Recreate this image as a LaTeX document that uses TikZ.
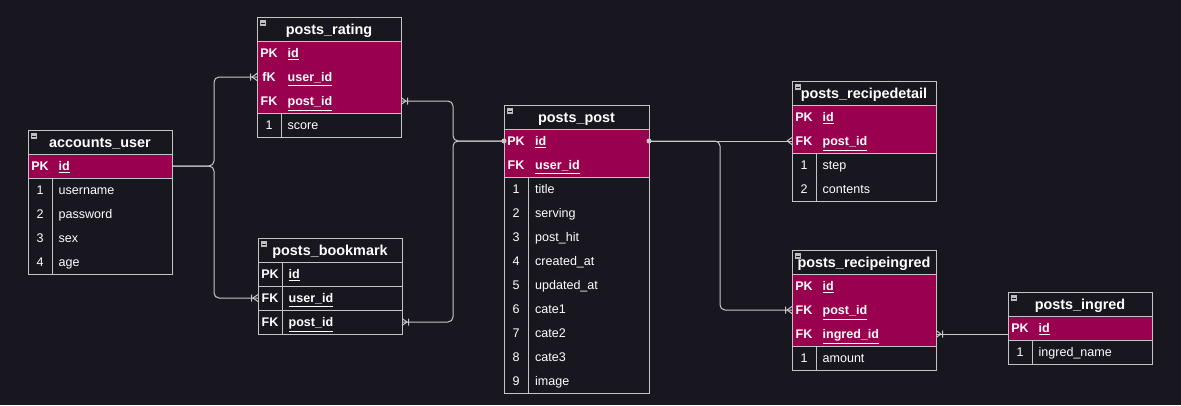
\documentclass[tikz,border=0pt]{standalone}
\usepackage{fontspec}
\setmainfont{Liberation Sans}
\usetikzlibrary{positioning}
\definecolor{bgcol}{RGB}{24,22,31}
\definecolor{keycol}{RGB}{153,0,78}
\definecolor{edgecol}{RGB}{196,196,196}
\definecolor{linecol}{RGB}{200,200,200}
\definecolor{iconcol}{RGB}{190,190,190}
\newcommand{\tblheadfont}{\fontsize{10.8}{12}\selectfont\bfseries}
\newcommand{\cellfont}{\fontsize{9.4}{11}\selectfont}
\tikzset{
every node/.style={outer sep=0pt}, % rows sit flush on each other
tblhead/.style={anchor=north west, minimum width=108pt, minimum height=18pt, inner sep=0pt, text=white, font=\tblheadfont, text height=9pt, text depth=1pt}, % table title row
kcell/.style={minimum width=18pt, minimum height=18pt, inner sep=0pt, text=white, font=\cellfont, text height=8.4pt, text depth=1.6pt}, % left column (PK, FK, 1, 2 ...)
ncell/.style={minimum width=90pt, minimum height=18pt, inner xsep=5pt, inner ysep=0pt, text width=80pt, align=left, text=white, font=\cellfont, text height=8.4pt, text depth=1.6pt}, % field name
keytext/.style={font=\cellfont\bfseries},
key/.style={keytext, fill=keycol}, % key rows are filled
tbl/.style={draw=edgecol, line width=0.75pt},
rel/.style={draw=linecol, line width=0.75pt, rounded corners=3.75pt},
crow/.pic={\draw[linecol, line width=0.75pt] (-5,0) -- (0,-3.5) (-5,0) -- (0,3.5);}, % many
crowbar/.pic={\draw[linecol, line width=0.75pt] (-5,0) -- (0,-3.5) (-5,0) -- (0,3.5) (-6.5,-3.5) -- (-6.5,3.5);}, % one or many
}
\begin{document}
\begin{tikzpicture}[x=0.75pt, y=-0.75pt]
\useasboundingbox[fill=bgcol] (0,0) rectangle (1181,405);

% accounts_user
\node[tblhead] (user) at (28,130) {accounts\_user};
\node[kcell, key, anchor=north west] (user-k1) at (user.south west) {PK};
\node[ncell, key, right=0pt of user-k1] (user-id) {\underline{id}};
\foreach \n/\f [remember=\n as \p (initially k1)] in {1/username, 2/password, 3/sex, 4/age} {
  \node[kcell, below=0pt of user-\p] (user-\n) {\n};
  \node[ncell, right=0pt of user-\n] (user-f\n) {\f};
}

% posts_rating
\node[tblhead] (rating) at (257,17) {posts\_rating};
\node[kcell, key, anchor=north west] (rating-k1) at (rating.south west) {PK};
\node[ncell, key, right=0pt of rating-k1] (rating-id) {\underline{id}};
\node[kcell, key, below=0pt of rating-k1] (rating-k2) {fK};
\node[ncell, key, right=0pt of rating-k2] (rating-user) {\underline{user\_id}};
\node[kcell, key, below=0pt of rating-k2] (rating-k3) {FK};
\node[ncell, key, right=0pt of rating-k3] (rating-post) {\underline{post\_id}};
\node[kcell, below=0pt of rating-k3] (rating-1) {1};
\node[ncell, right=0pt of rating-1] (rating-f1) {score};

% posts_bookmark
\node[tblhead] (bookmark) at (258,238) {posts\_bookmark};
\node[kcell, keytext, anchor=north west] (bookmark-k1) at (bookmark.south west) {PK};
\node[ncell, keytext, right=0pt of bookmark-k1] (bookmark-id) {\underline{id}};
\node[kcell, keytext, below=0pt of bookmark-k1] (bookmark-k2) {FK};
\node[ncell, keytext, right=0pt of bookmark-k2] (bookmark-user) {\underline{user\_id}};
\node[kcell, keytext, below=0pt of bookmark-k2] (bookmark-k3) {FK};
\node[ncell, keytext, right=0pt of bookmark-k3] (bookmark-post) {\underline{post\_id}};

% posts_post
\node[tblhead, minimum width=108.75pt] (post) at (504,105) {posts\_post};
\node[kcell, key, anchor=north west] (post-k1) at (post.south west) {PK};
\node[ncell, key, minimum width=90.75pt, right=0pt of post-k1] (post-id) {\underline{id}};
\node[kcell, key, below=0pt of post-k1] (post-k2) {FK};
\node[ncell, key, minimum width=90.75pt, right=0pt of post-k2] (post-user) {\underline{user\_id}};
\foreach \n/\f [remember=\n as \p (initially k2)] in {1/title, 2/serving, 3/post\_hit, 4/created\_at, 5/updated\_at, 6/cate1, 7/cate2, 8/cate3, 9/image} {
  \node[kcell, below=0pt of post-\p] (post-\n) {\n};
  \node[ncell, minimum width=90.75pt, right=0pt of post-\n] (post-f\n) {\f};
}

% posts_recipedetail
\node[tblhead] (detail) at (792,81) {posts\_recipedetail};
\node[kcell, key, anchor=north west] (detail-k1) at (detail.south west) {PK};
\node[ncell, key, right=0pt of detail-k1] (detail-id) {\underline{id}};
\node[kcell, key, below=0pt of detail-k1] (detail-k2) {FK};
\node[ncell, key, right=0pt of detail-k2] (detail-post) {\underline{post\_id}};
\node[kcell, below=0pt of detail-k2] (detail-1) {1};
\node[ncell, right=0pt of detail-1] (detail-f1) {step};
\node[kcell, below=0pt of detail-1] (detail-2) {2};
\node[ncell, right=0pt of detail-2] (detail-f2) {contents};

% posts_recipeingred
\node[tblhead] (ringred) at (792,250) {posts\_recipeingred};
\node[kcell, key, anchor=north west] (ringred-k1) at (ringred.south west) {PK};
\node[ncell, key, right=0pt of ringred-k1] (ringred-id) {\underline{id}};
\node[kcell, key, below=0pt of ringred-k1] (ringred-k2) {FK};
\node[ncell, key, right=0pt of ringred-k2] (ringred-post) {\underline{post\_id}};
\node[kcell, key, below=0pt of ringred-k2] (ringred-k3) {FK};
\node[ncell, key, right=0pt of ringred-k3] (ringred-ingred) {\underline{ingred\_id}};
\node[kcell, below=0pt of ringred-k3] (ringred-1) {1};
\node[ncell, right=0pt of ringred-1] (ringred-f1) {amount};

% posts_ingred
\node[tblhead] (ingred) at (1008,292) {posts\_ingred};
\node[kcell, key, anchor=north west] (ingred-k1) at (ingred.south west) {PK};
\node[ncell, key, right=0pt of ingred-k1] (ingred-id) {\underline{id}};
\node[kcell, below=0pt of ingred-k1] (ingred-1) {1};
\node[ncell, right=0pt of ingred-1] (ingred-f1) {ingred\_name};

% table frames
\draw[tbl] (user.north west) rectangle (user-f4.south east) (user.south west) -- (user.south east)
  (user-1.north west) -- (user-f1.north east) (user-1.north east) -- (user-4.south east);
\draw[tbl] (rating.north west) rectangle (rating-f1.south east) (rating.south west) -- (rating.south east)
  (rating-1.north west) -- (rating-f1.north east) (rating-1.north east) -- (rating-1.south east);
\draw[tbl] (bookmark.north west) rectangle (bookmark-post.south east) (bookmark.south west) -- (bookmark.south east)
  (bookmark-k2.north west) -- (bookmark-user.north east) (bookmark-k3.north west) -- (bookmark-post.north east)
  (bookmark-k1.north east) -- (bookmark-k3.south east);
\draw[tbl] (post.north west) rectangle (post-f9.south east) (post.south west) -- (post.south east)
  (post-1.north west) -- (post-f1.north east) (post-1.north east) -- (post-9.south east);
\draw[tbl] (detail.north west) rectangle (detail-f2.south east) (detail.south west) -- (detail.south east)
  (detail-1.north west) -- (detail-f1.north east) (detail-1.north east) -- (detail-2.south east);
\draw[tbl] (ringred.north west) rectangle (ringred-f1.south east) (ringred.south west) -- (ringred.south east)
  (ringred-1.north west) -- (ringred-f1.north east) (ringred-1.north east) -- (ringred-1.south east);
\draw[tbl] (ingred.north west) rectangle (ingred-f1.south east) (ingred.south west) -- (ingred.south east)
  (ingred-1.north west) -- (ingred-f1.north east) (ingred-1.north east) -- (ingred-1.south east);

% collapse icons
\foreach \t in {user, rating, bookmark, post, detail, ringred, ingred} {
  \fill[iconcol] ([shift={(3,3)}]\t.north west) rectangle ++(6,6);
  \draw[bgcol, line width=0.75pt] ([shift={(4,6)}]\t.north west) -- ++(4,0);
}

% relations
\draw[rel] (user-id.east) -- ++(42,0) |- (rating-k2.west);
\draw[rel] (user-id.east) -- ++(42,0) |- (bookmark-k2.west);
\pic at (rating-k2.west) {crowbar};
\pic at (bookmark-k2.west) {crowbar};

\draw[rel] (post-k1.west) -- ++(-51,0) |- (rating-post.east);
\draw[rel] (post-k1.west) -- ++(-51,0) |- (bookmark-post.east);
\pic[rotate=180] at (rating-post.east) {crowbar};
\pic[rotate=180] at (bookmark-post.east) {crowbar};
\fill[linecol] (post-k1.west) circle (1.9pt);

\draw[rel] (post-id.east) -- (detail-k2.west);
\draw[rel] (post-id.east) -- ++(71,0) |- (ringred-k2.west);
\pic at (detail-k2.west) {crow};
\pic at (ringred-k2.west) {crowbar};
\fill[linecol] (post-id.east) circle (1.9pt);

\draw[rel] (ringred-ingred.east) -- (ringred-ingred.east -| ingred-k1.west);
\pic[rotate=180] at (ringred-ingred.east) {crowbar};
\end{tikzpicture}
\end{document}
